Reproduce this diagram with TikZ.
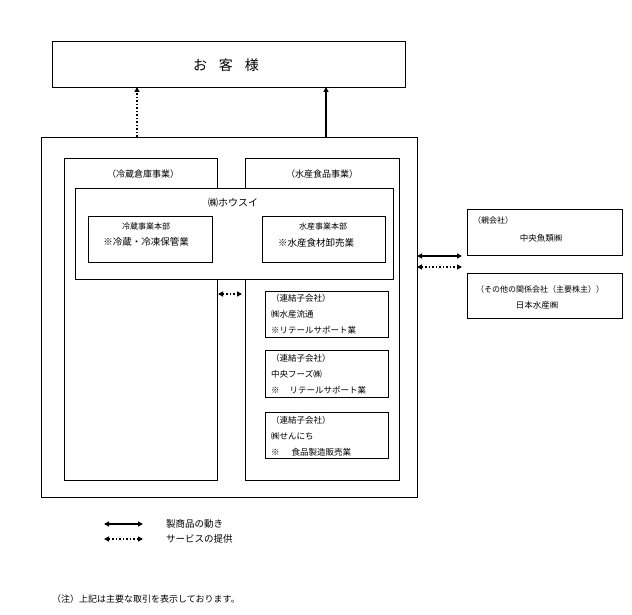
\documentclass[tikz,border=0pt]{standalone}
\usepackage{fontspec}
\setmainfont{Noto Sans CJK JP}
\usetikzlibrary{arrows.meta}
\begin{document}
\begin{tikzpicture}[x=1pt,y=-1pt,
  box/.style={draw,line width=0.9pt},
  thick box/.style={draw,line width=1.2pt},
  txt/.style={inner sep=0pt,font=\fontsize{8.5}{9}\selectfont},
  ltxt/.style={txt,anchor=west},
  prod/.style={line width=1.5pt,{Triangle[length=5pt,width=5pt]}-{Triangle[length=5pt,width=5pt]}},
  serv/.style={line width=1.5pt,dotted,{Triangle[length=5pt,width=5pt]}-{Triangle[length=5pt,width=5pt]}},
  up prod/.style={line width=1.5pt,-{Triangle[length=5pt,width=5pt]}},
  up serv/.style={line width=1.5pt,dotted,-{Triangle[length=5pt,width=5pt]}}]
\useasboundingbox (0,0) rectangle (632,615);
% customer
\node[box,minimum width=353pt,minimum height=46pt,anchor=north west,inner sep=0pt] (cust) at (52,41) {};
\node[inner sep=0pt,font=\fontsize{14}{15}\selectfont] (custt) at (226,65) {お\hspace{12pt}客\hspace{12pt}様};
% outer
\node[thick box,minimum width=376pt,minimum height=360pt,anchor=north west,inner sep=0pt] (outer) at (41,137) {};
\coordinate (o1) at (137,137);
\coordinate (c1) at (137,87);
\coordinate (o2) at (326,137);
\coordinate (c2) at (326,87);
\draw[up serv] (o1) -- (c1);
\draw[up prod] (o2) -- (c2);
% columns
\node[box,minimum width=153pt,minimum height=322pt,anchor=north west,inner sep=0pt] (lcol) at (64,158) {};
\node[box,minimum width=154pt,minimum height=322pt,anchor=north west,inner sep=0pt] (rcol) at (245,158) {};
\node[txt,font=\fontsize{9}{10}\selectfont] (lcolt) at (143,174) {（冷蔵倉庫事業）};
\node[txt,font=\fontsize{9}{10}\selectfont] (rcolt) at (322,174) {（水産食品事業）};
% housui
\node[box,fill=white,minimum width=318pt,minimum height=91pt,anchor=north west,inner sep=0pt] (hs) at (75,188) {};
\node[txt,font=\fontsize{10}{11}\selectfont] (hst) at (233,203) {㈱ホウスイ};
\node[box,minimum width=124pt,minimum height=46pt,anchor=north west,inner sep=0pt] (d1) at (88,216) {};
\node[txt,font=\fontsize{8}{9}\selectfont] (d1a) at (146,226) {冷蔵事業本部};
\node[txt,font=\fontsize{9.5}{10}\selectfont] (d1b) at (146,242) {※冷蔵・冷凍保管業};
\node[box,minimum width=123pt,minimum height=46pt,anchor=north west,inner sep=0pt] (d2) at (262,216) {};
\node[txt,font=\fontsize{8}{9}\selectfont] (d2a) at (323,226) {水産事業本部};
\node[txt,font=\fontsize{9.5}{10}\selectfont] (d2b) at (316,243) {※水産食材卸売業};
% between columns
\coordinate (b1) at (218,294);
\coordinate (b2) at (242,294);
\draw[serv,line width=1.3pt] (b1) -- (b2);
% subsidiaries
\node[box,minimum width=123pt,minimum height=46pt,anchor=north west,inner sep=0pt] (s1) at (265,291) {};
\node[ltxt] (s1a) at (271,298) {（連結子会社）};
\node[ltxt] (s1b) at (271,314) {㈱水産流通};
\node[ltxt] (s1c) at (271,330) {※リテールサポート業};
\node[box,minimum width=123pt,minimum height=47pt,anchor=north west,inner sep=0pt] (s2) at (265,350) {};
\node[ltxt] (s2a) at (271,358) {（連結子会社）};
\node[ltxt] (s2b) at (271,374) {中央フーズ㈱};
\node[ltxt] (s2c) at (271,390) {※\hspace{10pt}リテールサポート業};
\node[box,minimum width=123pt,minimum height=46pt,anchor=north west,inner sep=0pt] (s3) at (265,412) {};
\node[ltxt] (s3a) at (271,420) {（連結子会社）};
\node[ltxt] (s3b) at (271,436) {㈱せんにち};
\node[ltxt] (s3c) at (271,452) {※\hspace{12pt}食品製造販売業};
% right side
\node[box,minimum width=155pt,minimum height=46pt,anchor=north west,inner sep=0pt] (p1) at (467,209) {};
\node[ltxt,font=\fontsize{8}{9}\selectfont] (p1a) at (473,220) {（親会社）};
\node[txt] (p1b) at (541,238) {中央魚類㈱};
\node[box,minimum width=155pt,minimum height=45pt,anchor=north west,inner sep=0pt] (p2) at (467,273) {};
\node[txt,font=\fontsize{8}{9}\selectfont] (p2a) at (540,289) {（その他の関係会社（主要株主））};
\node[txt] (p2b) at (537,305) {日本水産㈱};
\coordinate (r1a) at (417,256);
\coordinate (r1b) at (462,256);
\coordinate (r2a) at (417,267);
\coordinate (r2b) at (462,267);
\draw[prod] (r1a) -- (r1b);
\draw[serv] (r2a) -- (r2b);
% legend
\coordinate (l1a) at (104,524);
\coordinate (l1b) at (143,524);
\coordinate (l2a) at (104,539);
\coordinate (l2b) at (143,539);
\draw[prod] (l1a) -- (l1b);
\draw[serv] (l2a) -- (l2b);
\node[ltxt,font=\fontsize{9.5}{10}\selectfont] (lt1) at (166,524) {製商品の動き};
\node[ltxt,font=\fontsize{9.5}{10}\selectfont] (lt2) at (166,539) {サービスの提供};
\node[ltxt,font=\fontsize{9}{10}\selectfont] (note) at (52,599) {（注）上記は主要な取引を表示しております。};
\end{tikzpicture}
\end{document}
